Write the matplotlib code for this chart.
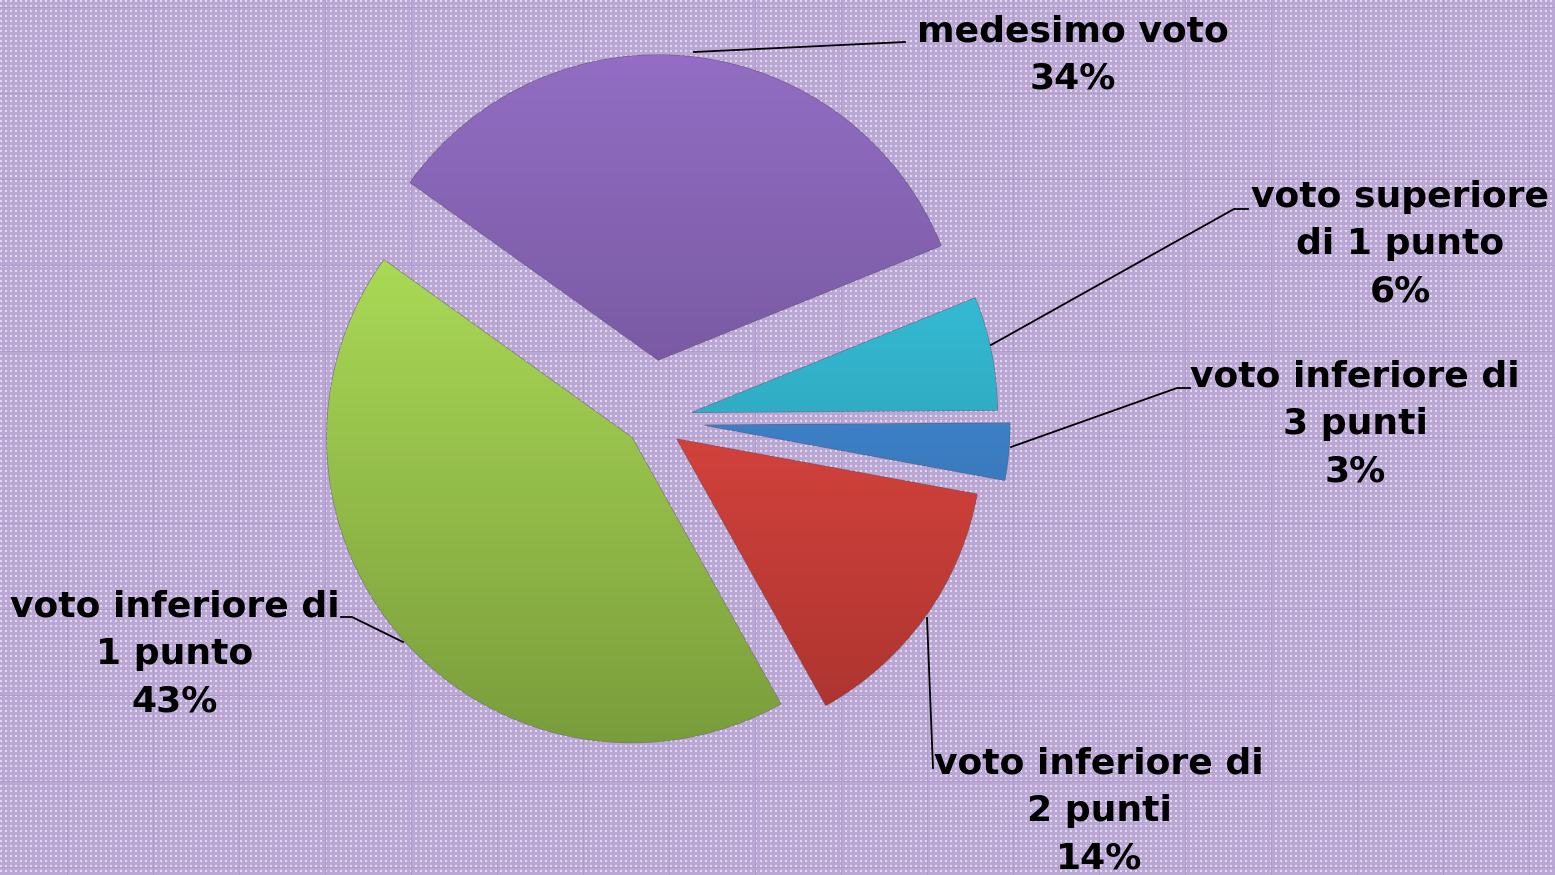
import numpy as np
import matplotlib
matplotlib.use('Agg')
import matplotlib.pyplot as plt
from matplotlib.colors import to_rgb

W, H = 1555, 875

labels = ['medesimo voto', 'voto superiore\ndi 1 punto', 'voto inferiore di\n3 punti',
          'voto inferiore di\n2 punti', 'voto inferiore di\n1 punto']
values = [34, 6, 3, 14, 43]
colors = ['#7C5BA8', '#2FB2CB', '#3C82CC', '#D9413B', '#9CC94C']
explode = [0.20, 0.138, 0.177, 0.105, 0.084]

# label block centre and leader line points (pixels, y down)
label_pos = [(1073, 55), (1400, 244), (1355, 424), (1099, 811), (175, 654)]
leaders = [
    [(694, 52), (905, 42)],
    [(991, 345), (1234, 209), (1248, 209)],
    [(1011, 447), (1177, 388), (1190, 388)],
    [(927, 618), (933, 768)],
    [(403, 642), (352, 617), (341, 617)],
]

R = 305

fig = plt.figure(figsize=(W / 100, H / 100), dpi=100)
ax = fig.add_axes([0, 0, 1, 1])

# dotted lavender background
tex = np.zeros((H, W, 3))
tex[:] = np.array([186, 167, 212]) / 255
yy, xx = np.mgrid[0:H, 0:W]
dots = ((xx % 5) < 2) & ((yy % 5) < 2)
tex[dots] = np.array([225, 217, 238]) / 255
grid = ((xx % 86) == 67) | ((yy % 86) == 7)
tex[grid] = np.array([176, 155, 205]) / 255
ax.imshow(tex, extent=[0, W, 0, H], origin='upper', zorder=0, interpolation='nearest')

wedges, _ = ax.pie(values, colors=colors, explode=[e * R for e in explode], startangle=144.4,
                   counterclock=False, radius=R, center=(651, H - 420.5),
                   wedgeprops=dict(linewidth=1.0, edgecolor='#00000050'))

# vertical shading on each slice, light top -> dark bottom
for w, c in zip(wedges, colors):
    base = np.array(to_rgb(c))
    cx, cy = w.center
    r = w.r
    t = np.linspace(0, 1, 200)[:, None]
    top = np.clip(base * 1.12 + 0.03, 0, 1)
    bot = base * 0.78
    grad = top * (1 - t) + bot * t
    img = np.repeat(grad[:, None, :], 2, axis=1)
    im = ax.imshow(img, extent=[cx - r, cx + r, cy - r, cy + r], origin='upper',
                   zorder=w.get_zorder() + 0.1, interpolation='bilinear')
    im.set_clip_path(w)

for lab, v, (x, y) in zip(labels, values, label_pos):
    ax.text(x, H - y, f'{lab}\n{v}%', ha='center', va='center', multialignment='center',
            fontsize=26, fontweight='bold', family='DejaVu Sans', color='black',
            linespacing=1.5, zorder=5)

for pts in leaders:
    xs = [p[0] for p in pts]
    ys = [H - p[1] for p in pts]
    ax.plot(xs, ys, color='black', lw=1.3, zorder=4)

ax.set_xlim(0, W)
ax.set_ylim(0, H)
ax.set_aspect('equal')
ax.axis('off')
fig.savefig('out.png', dpi=100)
